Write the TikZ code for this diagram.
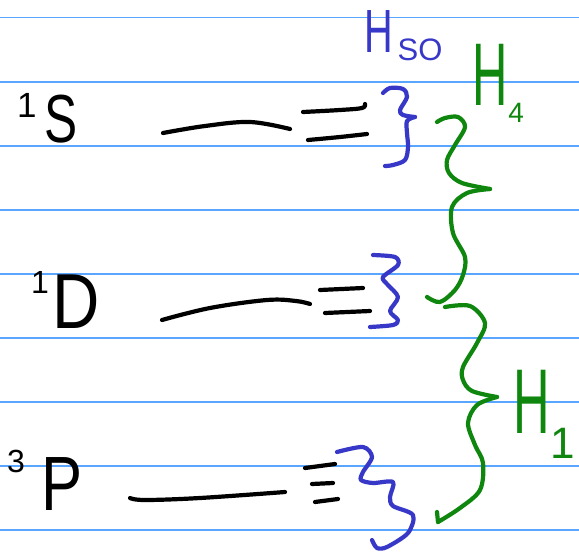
\documentclass[tikz,border=0pt]{standalone}
\usepackage{fontspec}
\usepackage{graphicx}
\setmainfont{Liberation Sans}
\definecolor{rulecol}{RGB}{90,165,255}
\definecolor{inkblue}{RGB}{55,55,200}
\definecolor{inkgreen}{RGB}{15,135,15}
\newcommand\fs[1]{\fontsize{#1}{#1}\selectfont}
\begin{document}
\begin{tikzpicture}[x=1pt, y=-1pt,
    rule/.style={rulecol, line width=1.6pt},
    ink/.style={line width=4.2pt, line cap=round, line join=round},
    level/.style={ink, black},
    brace/.style={ink, inkblue},
    wave/.style={ink, inkgreen},
    lbl/.style={anchor=base west, inner sep=0pt, outer sep=0pt},
  ]
  \useasboundingbox[fill=white] (0,0) rectangle (579,552);

  % ruled paper
  \foreach \yy in {17.5,82,146,210,274,338,402,466,530}
    \draw[rule] (0,\yy) -- (579,\yy);

  % term labels
  \node[lbl] (termS) at (17,142)
    {\raisebox{25pt}{\fs{35}1}\hspace{8pt}\scalebox{0.73}[1]{\fs{68}S}};
  \node[lbl] (termD) at (31,328)
    {\raisebox{35pt}{\fs{32}1}\hspace{4pt}\scalebox{0.84}[1]{\fs{78}D}};
  \node[lbl] (termP) at (7,510)
    {\raisebox{38pt}{\fs{32}3}\hspace{17pt}\scalebox{0.8}[1]{\fs{77}P}};

  % term levels and their fine-structure components
  \draw[level] plot[smooth, tension=0.6] coordinates {(163,133) (205,126) (250,122) (290,129)};
  \draw[level] plot[smooth, tension=0.6] coordinates {(303,112) (340,110) (362,108) (365,104)};
  \draw[level] plot[smooth, tension=0.6] coordinates {(308,140) (340,137) (367,134)};

  \draw[level] plot[smooth, tension=0.6] coordinates {(162,320) (210,308) (267,300) (296,301) (310,304)};
  \draw[level] (320,290) -- (363,288);
  \draw[level] (325,313) -- (370,311);

  \draw[level] plot[smooth, tension=0.6] coordinates {(130,498) (145,500) (200,498) (285,492)};
  \draw[level] (305,468) -- (335,464);
  \draw[level] (312,484) -- (333,483);
  \draw[level] (315,502) -- (338,499);

  % spin-orbit braces
  \draw[brace] plot[smooth, tension=0.55] coordinates {(383,93) (390,88) (403,89) (407,97) (400,110) (403,115) (415,117)};
  \draw[brace] plot[smooth, tension=0.55] coordinates {(415,117) (407,121) (407,133) (408,147) (405,160) (393,165) (385,166)};

  \draw[brace] plot[smooth, tension=0.5] coordinates {(373,255) (395,257) (398,265) (383,277) (387,284) (398,297) (390,311) (398,320) (393,325) (370,327)};

  \draw[brace] plot[smooth, tension=0.5] coordinates {(337,452) (363,447) (372,457) (363,472) (361,480) (373,483) (393,482) (390,497) (393,506) (413,515) (408,533) (387,547) (377,548) (372,540)};

  \node[lbl, text=inkblue] (hso) at (364,52)
    {\scalebox{0.65}[1]{\fs{61}H}\hspace{5pt}\raisebox{-8pt}{\fs{31}SO}};

  % electrostatic braces
  \draw[wave] plot[smooth, tension=0.55] coordinates {(437,122) (445,118) (458,117) (465,127) (455,145) (447,160) (449,173) (462,183) (490,189)};
  \draw[wave] plot[smooth, tension=0.55] coordinates {(490,189) (467,193) (452,207) (453,233) (465,257) (463,275) (455,290) (440,302) (427,297)};

  \draw[wave] plot[smooth, tension=0.55] coordinates {(445,307) (470,306) (485,323) (477,343) (463,367) (463,380) (472,391) (497,397)};
  \draw[wave] plot[smooth, tension=0.55] coordinates {(497,397) (477,405) (468,423) (475,445) (483,463) (480,490) (460,508) (438,522)};
  \draw[wave] (438,522) -- (437,512);

  \node[lbl, text=inkgreen] (hfour) at (472,105)
    {\scalebox{0.55}[1]{\fs{89}H}\hspace{1pt}\raisebox{-17pt}{\fs{28}4}};
  \node[lbl, text=inkgreen] (hone) at (513,433)
    {\scalebox{0.55}[1]{\fs{92}H}\hspace{1pt}\raisebox{-25pt}{\fs{44}1}};
\end{tikzpicture}
\end{document}
